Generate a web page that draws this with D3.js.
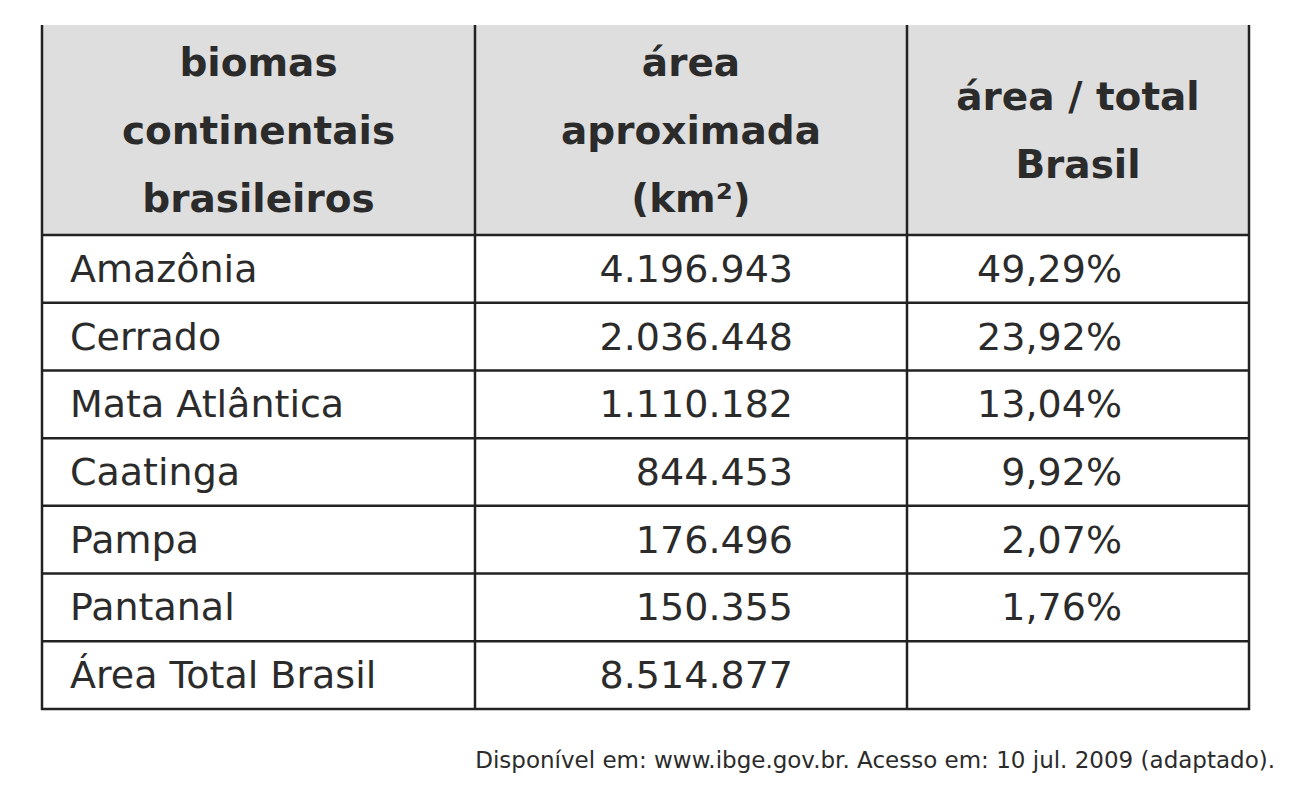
<!DOCTYPE html>
<html><head><meta charset="utf-8">
<script src="https://cdn.jsdelivr.net/npm/d3@7"></script>
<style>body{margin:0;background:#fff}</style>
</head><body>
<svg id="tbl" width="1303" height="800"></svg>
<script>
// table data
const biomes = ["Amazônia", "Cerrado", "Mata Atlântica", "Caatinga", "Pampa", "Pantanal", "Área Total Brasil"];
const areas = ["4.196.943", "2.036.448", "1.110.182", "844.453", "176.496", "150.355", "8.514.877"];
const shares = ["49,29%", "23,92%", "13,04%", "9,92%", "2,07%", "1,76%", ""];
const headers = [["biomas", "continentais", "brasileiros"], ["área", "aproximada", "(km²)"], ["área / total", "Brasil"]];
const source = "Disponível em: www.ibge.gov.br. Acesso em: 10 jul. 2009 (adaptado).";

const svg = d3.select("#tbl");
const font = "'DejaVu Sans', Verdana, sans-serif";
const ink = "#2b2b2b";

const x = d3.scaleOrdinal().domain([0, 1, 2, 3]).range([42, 475, 907, 1249]);
const y = d3.scaleBand().domain(d3.range(biomes.length)).range([235, 709]);
const topY = 25;

// header background
svg.append("rect").attr("x", 42).attr("y", topY).attr("width", 1207).attr("height", 235 - topY).attr("fill", "#dedede");

// header text
headers.forEach((lines, c) => {
  const cx = (x(c) + x(c + 1)) / 2;
  const n = lines.length, lh = 68;
  const y0 = (topY + 235) / 2 - (n - 1) * lh / 2 + 14;
  const t = svg.append("text").attr("text-anchor", "middle").attr("font-family", font)
    .attr("font-weight", "bold").attr("font-size", 39).attr("fill", ink);
  lines.forEach((l, i) => t.append("tspan").attr("x", cx).attr("y", y0 + i * lh).text(l));
});

// body rows
const rows = svg.selectAll("g.row").data(biomes).join("g").attr("class", "row")
  .attr("transform", (d, i) => `translate(0,${y(i) + y.bandwidth() / 2 + 13})`)
  .attr("font-family", font).attr("font-size", 38).attr("fill", ink);
rows.append("text").attr("x", 70).text(d => d);
rows.append("text").attr("x", 793).attr("text-anchor", "end").text((d, i) => areas[i]);
rows.append("text").attr("x", 1122).attr("text-anchor", "end").text((d, i) => shares[i]);

// grid lines
const gl = svg.append("g").attr("stroke", "#222").attr("stroke-width", 2.5);
[235, ...y.domain().map(i => y(i) + y.bandwidth())].forEach(v =>
  gl.append("line").attr("x1", 41).attr("x2", 1250).attr("y1", v).attr("y2", v));
[0, 1, 2, 3].forEach(c =>
  gl.append("line").attr("x1", x(c)).attr("x2", x(c)).attr("y1", topY).attr("y2", 710));

svg.append("text").attr("x", 1275).attr("y", 768).attr("text-anchor", "end")
  .attr("font-family", font).attr("font-size", 23).attr("fill", ink).text(source);
</script>
</body></html>
